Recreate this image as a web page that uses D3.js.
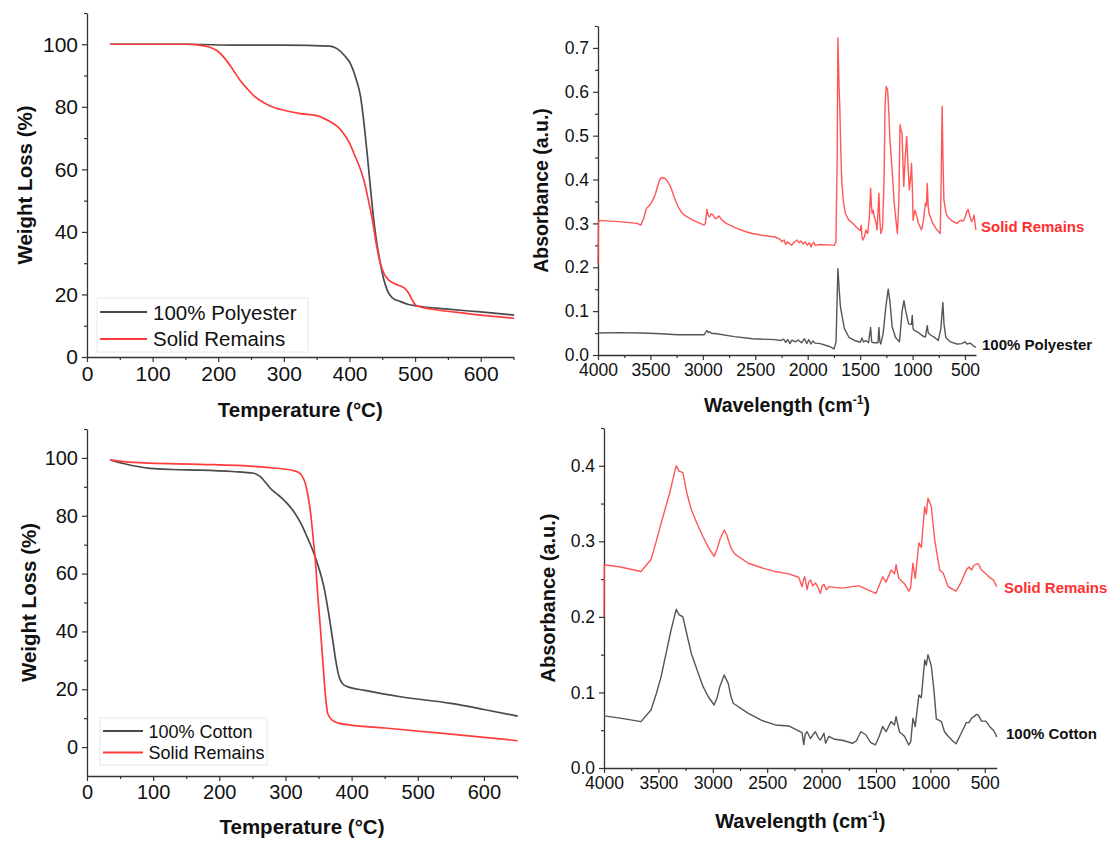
<!DOCTYPE html>
<html>
<head>
<meta charset="utf-8">
<script src="https://cdn.jsdelivr.net/npm/d3@7"></script>
<style>
  body { margin: 0; background: #fff; }
  text { font-family: "Liberation Sans", Arial, sans-serif; fill: #111; }
</style>
</head>
<body>
<svg id="fig" width="1111" height="841"></svg>
<script>
// ---- TGA curves: [temperature °C, weight %] ----
const tgaPolyester = [[35,100],[100,100],[150,100],[230,99.7],[300,99.7],[370,99.4],[381,98.6],[392,96.5],[401.5,93.8],[410,89],[417,83.2],[422,75],[427,65],[432,54],[437,43.8],[442,36],[447,30],[452,25],[457.5,21.4],[465,19],[478,17.7],[490,16.8],[503,16.3],[550,15.3],[600,14.4],[651,13.4]];
const tgaPolyRemains = [[35,100],[100,100],[150,100],[172,99.7],[185,99.2],[198,98],[210,95.5],[223,91.7],[235,88],[244,85.8],[254,83.6],[264,82],[280,80.2],[300,78.9],[325,77.8],[350,77.2],[371,75.2],[381,73.8],[391,71.5],[400,68.5],[407,65],[415,61],[422,56.5],[429,50],[435,43.8],[441,36],[447,30],[453,26.5],[460,24.6],[470,23.3],[480,22.5],[486,21.6],[490.5,20.3],[495,18.5],[501,16.6],[510,15.9],[529,15.2],[580,13.9],[651,12.4]];
const tgaCotton = [[35,99.3],[60,97.8],[95.5,96.4],[130,96],[171,95.8],[220,95.3],[252,94.7],[262,93.5],[270,91.5],[277,89.5],[290,87],[302.5,84.3],[313,81.3],[323,77.5],[333,72.5],[343,67],[351,61.5],[358,55.5],[364,48],[370.7,38.2],[376,30],[381,24.3],[386,22],[393.5,20.9],[420,19.6],[474,17.4],[550,15.1],[600,13],[651,10.7]];
const tgaCottonRemains = [[35,99.3],[60,98.6],[95,98.2],[171,97.8],[272,96.7],[312.6,95.6],[320,94.9],[325,93.8],[330,91.2],[334,87],[338,80.9],[342,72],[345.5,63.6],[349,52],[353,40.5],[357,28],[360.6,17.4],[364,11.5],[370.7,9.3],[380,8.3],[398.5,7.6],[450,6.6],[550,4.5],[651,2.2]];

// ---- FTIR spectra: [wavenumber cm-1, absorbance] ----
const ftirPolyRemains = [[4000,0.205],[3995,0.307],[3798,0.304],[3628,0.300],[3592,0.296],[3566,0.310],[3539,0.334],[3511,0.340],[3486,0.349],[3455,0.365],[3432,0.384],[3415,0.398],[3397,0.404],[3362,0.403],[3334,0.395],[3308,0.384],[3274,0.360],[3237,0.338],[3203,0.325],[3166,0.317],[3092,0.307],[3025,0.300],[2989,0.296],[2976,0.300],[2961,0.332],[2949,0.318],[2936,0.315],[2919,0.322],[2901,0.319],[2886,0.312],[2872,0.311],[2847,0.317],[2820,0.308],[2777,0.300],[2689,0.290],[2588,0.281],[2527,0.277],[2437,0.273],[2315,0.269],[2265,0.264],[2244,0.258],[2225,0.262],[2210,0.252],[2195,0.258],[2173,0.254],[2154,0.250],[2134,0.256],[2102,0.262],[2084,0.256],[2064,0.260],[2043,0.253],[2023,0.258],[2003,0.250],[1983,0.256],[1968,0.246],[1960,0.252],[1942,0.257],[1927,0.250],[1882,0.252],[1801,0.251],[1748,0.250],[1731,0.258],[1719,0.450],[1712,0.723],[1702,0.620],[1694,0.566],[1685,0.470],[1676,0.399],[1660,0.350],[1641,0.323],[1610,0.308],[1569,0.300],[1529,0.290],[1499,0.284],[1489,0.296],[1483,0.270],[1474,0.262],[1458,0.270],[1445,0.285],[1428,0.277],[1413,0.310],[1400,0.380],[1392,0.340],[1385,0.323],[1376,0.330],[1364,0.315],[1347,0.300],[1339,0.285],[1329,0.330],[1321,0.369],[1313,0.310],[1303,0.277],[1286,0.290],[1272,0.400],[1262,0.570],[1252,0.612],[1238,0.605],[1226,0.550],[1216,0.490],[1197,0.430],[1176,0.350],[1162,0.315],[1145,0.277],[1131,0.350],[1119,0.525],[1107,0.510],[1101,0.506],[1093,0.450],[1084,0.384],[1070,0.450],[1056,0.498],[1045,0.440],[1031,0.376],[1020,0.400],[1010,0.437],[1002,0.380],[995,0.307],[979,0.330],[967,0.323],[944,0.300],[914,0.285],[894,0.310],[878,0.346],[868,0.340],[860,0.391],[851,0.340],[843,0.323],[823,0.310],[807,0.300],[773,0.287],[736,0.277],[727,0.400],[718,0.567],[710,0.450],[701,0.353],[682,0.325],[666,0.315],[621,0.305],[577,0.300],[542,0.307],[520,0.305],[505,0.310],[485,0.325],[470,0.332],[452,0.315],[438,0.304],[424,0.310],[414,0.319],[404,0.300],[396,0.285]];
const ftirPolyester = [[4000,0.050],[3800,0.051],[3592,0.050],[3450,0.049],[3237,0.046],[3100,0.046],[2989,0.046],[2961,0.056],[2948,0.051],[2936,0.053],[2915,0.049],[2882,0.049],[2700,0.042],[2527,0.037],[2315,0.035],[2260,0.033],[2230,0.036],[2210,0.029],[2190,0.035],[2170,0.026],[2150,0.034],[2120,0.030],[2090,0.034],[2060,0.028],[2030,0.037],[2010,0.026],[1990,0.035],[1970,0.025],[1950,0.032],[1930,0.027],[1880,0.026],[1800,0.020],[1748,0.014],[1730,0.030],[1712,0.197],[1700,0.150],[1688,0.110],[1676,0.094],[1650,0.060],[1606,0.040],[1550,0.033],[1499,0.029],[1482,0.039],[1470,0.030],[1445,0.033],[1420,0.028],[1400,0.063],[1390,0.030],[1375,0.028],[1330,0.028],[1321,0.063],[1312,0.030],[1303,0.025],[1280,0.050],[1255,0.110],[1232,0.150],[1215,0.120],[1195,0.065],[1162,0.040],[1125,0.030],[1110,0.070],[1100,0.100],[1082,0.124],[1065,0.100],[1038,0.071],[1010,0.070],[1003,0.090],[995,0.060],[984,0.056],[949,0.052],[900,0.043],[878,0.041],[860,0.067],[850,0.050],[825,0.045],[790,0.040],[755,0.033],[730,0.060],[711,0.120],[700,0.070],[683,0.040],[640,0.030],[577,0.025],[530,0.026],[500,0.030],[480,0.025],[450,0.027],[420,0.021],[396,0.0175]];
const ftirCottonRemains = [[4000,0.200],[3997,0.269],[3850,0.266],[3660,0.260],[3568,0.276],[3520,0.300],[3475,0.324],[3398,0.363],[3345,0.395],[3336,0.400],[3310,0.393],[3275,0.391],[3240,0.365],[3198,0.342],[3140,0.322],[3090,0.306],[3040,0.292],[2988,0.280],[2960,0.290],[2935,0.302],[2895,0.315],[2870,0.308],[2858,0.302],[2830,0.290],[2796,0.283],[2673,0.271],[2550,0.265],[2426,0.260],[2302,0.257],[2210,0.2525],[2179,0.240],[2165,0.250],[2154,0.253],[2133,0.236],[2118,0.246],[2102,0.249],[2080,0.241],[2056,0.245],[2030,0.238],[2010,0.231],[1995,0.241],[1978,0.243],[1955,0.236],[1932,0.240],[1880,0.239],[1809,0.238],[1716,0.240],[1654,0.241],[1580,0.236],[1500,0.231],[1438,0.253],[1407,0.246],[1361,0.262],[1330,0.257],[1315,0.269],[1290,0.251],[1238,0.244],[1198,0.234],[1182,0.238],[1160,0.271],[1139,0.251],[1105,0.298],[1083,0.292],[1052,0.346],[1037,0.336],[1022,0.357],[991,0.346],[960,0.302],[914,0.262],[883,0.258],[836,0.240],[790,0.236],[764,0.234],[720,0.245],[696,0.253],[670,0.262],[645,0.266],[620,0.262],[600,0.268],[575,0.270],[558,0.270],[530,0.262],[490,0.257],[455,0.252],[421,0.249],[400,0.243],[390,0.240]];
const ftirCotton = [[4000,0.069],[3850,0.066],[3660,0.0614],[3568,0.0768],[3520,0.098],[3475,0.121],[3383,0.183],[3336,0.210],[3310,0.203],[3275,0.200],[3240,0.178],[3198,0.152],[3140,0.128],[3090,0.108],[3040,0.094],[2988,0.0834],[2960,0.093],[2935,0.108],[2895,0.123],[2875,0.117],[2858,0.112],[2835,0.096],[2812,0.0857],[2673,0.0724],[2550,0.063],[2426,0.057],[2302,0.0556],[2179,0.0468],[2164,0.031],[2150,0.045],[2133,0.048],[2102,0.039],[2080,0.044],[2056,0.048],[2030,0.040],[2010,0.037],[1978,0.046],[1963,0.033],[1932,0.042],[1880,0.038],[1809,0.0367],[1716,0.0327],[1680,0.036],[1639,0.048],[1593,0.044],[1550,0.034],[1506,0.0305],[1470,0.042],[1438,0.055],[1407,0.048],[1361,0.0614],[1330,0.057],[1315,0.068],[1284,0.048],[1238,0.042],[1198,0.0305],[1180,0.035],[1160,0.0658],[1139,0.055],[1105,0.0967],[1083,0.093],[1052,0.143],[1037,0.136],[1022,0.150],[991,0.135],[965,0.100],[945,0.065],[898,0.0614],[870,0.048],[836,0.042],[790,0.035],[764,0.032],[720,0.045],[696,0.052],[670,0.060],[645,0.060],[620,0.066],[600,0.068],[575,0.071],[558,0.070],[530,0.062],[490,0.062],[455,0.055],[421,0.050],[400,0.045],[390,0.041]];

// ---- ticks ----
const tempTicks = [0, 100, 200, 300, 400, 500, 600];
const tempMinor = [50, 150, 250, 350, 450, 550, 650];
const wtTicks = [0, 20, 40, 60, 80, 100];
const wtMinor = [10, 30, 50, 70, 90, 110];
const wnTicks = [4000, 3500, 3000, 2500, 2000, 1500, 1000, 500];
const wnMinor = [3750, 3250, 2750, 2250, 1750, 1250, 750];
const absTopTicks = [0, 0.1, 0.2, 0.3, 0.4, 0.5, 0.6, 0.7];
const absTopMinor = [0.05, 0.15, 0.25, 0.35, 0.45, 0.55, 0.65, 0.75];
const absBotTicks = [0, 0.1, 0.2, 0.3, 0.4];
const absBotMinor = [0.05, 0.15, 0.25, 0.35, 0.45];

const GRAY = "#4a4a4a", RED = "#ff3b3b";
const svg = d3.select("#fig");

function panel(p) {
  const x = d3.scaleLinear().domain(p.xDomain).range(p.xRange);
  const y = d3.scaleLinear().domain(p.yDomain).range(p.yRange);
  const g = svg.append("g");
  const yb = p.yRange[0], xl = p.xRange[0];

  const style = sel => {
    sel.selectAll(".tick line").attr("stroke", "#333").attr("stroke-width", 1.2);
    sel.selectAll(".domain").attr("stroke", "#333").attr("stroke-width", 1.3);
    sel.selectAll("text").attr("font-size", p.tickFont)
      .attr("font-family", '"Liberation Sans", Arial, sans-serif').attr("fill", "#111");
  };
  // minor ticks
  g.append("g").attr("transform", `translate(0,${yb})`)
    .call(d3.axisBottom(x).tickValues(p.xMinor).tickSize(3).tickFormat(""))
    .call(style).call(a => a.select(".domain").remove());
  g.append("g").attr("transform", `translate(${xl},0)`)
    .call(d3.axisLeft(y).tickValues(p.yMinor).tickSize(3).tickFormat(""))
    .call(style).call(a => a.select(".domain").remove());
  // major ticks
  g.append("g").attr("transform", `translate(0,${yb})`)
    .call(d3.axisBottom(x).tickValues(p.xTicks).tickSize(5).tickSizeOuter(0).tickPadding(4).tickFormat(d3.format("d")))
    .call(style);
  g.append("g").attr("transform", `translate(${xl},0)`)
    .call(d3.axisLeft(y).tickValues(p.yTicks).tickSize(5).tickSizeOuter(0).tickPadding(4).tickFormat(p.yFormat))
    .call(style);

  // curves
  p.series.forEach(s => {
    g.append("path").datum(s.data)
      .attr("fill", "none").attr("stroke", s.color).attr("stroke-width", p.lineWidth)
      .attr("stroke-opacity", s.opacity || 1).attr("stroke-linejoin", "round")
      .attr("d", d3.line().x(d => x(d[0])).y(d => y(d[1])).curve(p.curve));
  });

  // axis titles
  const xt = g.append("text").attr("x", (p.xRange[0] + p.xRange[1]) / 2).attr("y", p.xTitleY)
    .attr("text-anchor", "middle").attr("font-weight", "bold").attr("font-size", p.titleFont);
  xt.text(p.xTitle);
  if (p.xSup) {
    xt.append("tspan").attr("font-size", p.titleFont * 0.62).attr("dy", -8).text(p.xSup);
    xt.append("tspan").attr("dy", 8).text(")");
  }
  g.append("text")
    .attr("transform", `translate(${p.yTitleX},${(p.yRange[0] + p.yRange[1]) / 2}) rotate(-90)`)
    .attr("dy", "0.35em").attr("text-anchor", "middle").attr("font-weight", "bold")
    .attr("font-size", p.titleFont).text(p.yTitle);

  // legend box
  if (p.legend) {
    const L = p.legend;
    g.append("rect").attr("x", L.x).attr("y", L.y).attr("width", L.w).attr("height", L.h)
      .attr("fill", "#fff").attr("stroke", "#e8e8e8");
    L.items.forEach((it, i) => {
      g.append("line").attr("x1", L.lx0).attr("x2", L.lx1).attr("y1", L.lineY[i]).attr("y2", L.lineY[i])
        .attr("stroke", it.color).attr("stroke-width", 2);
      g.append("text").attr("x", L.tx).attr("y", L.textY[i]).attr("font-size", L.font).text(it.label);
    });
  }
  // inline curve labels
  (p.labels || []).forEach(l => {
    g.append("text").attr("x", l.x).attr("y", l.y).attr("font-size", 15).attr("font-weight", "bold")
      .style("fill", l.color).text(l.text);
  });
}

// top-left: TGA polyester
panel({
  xDomain: [0, 650], xRange: [87, 513.5], yDomain: [0, 110], yRange: [357, 13],
  xTicks: tempTicks, xMinor: tempMinor, yTicks: wtTicks, yMinor: wtMinor, yFormat: d3.format("d"),
  tickFont: 21, titleFont: 20.5, lineWidth: 1.7, curve: d3.curveMonotoneX,
  xTitle: "Temperature (°C)", xTitleY: 417, yTitle: "Weight Loss (%)", yTitleX: 25,
  series: [{ data: tgaPolyester, color: GRAY }, { data: tgaPolyRemains, color: RED }],
  legend: { x: 97, y: 298, w: 211, h: 54, lx0: 100, lx1: 147, tx: 153, font: 20.5,
    lineY: [312, 339], textY: [319.5, 345.5],
    items: [{ label: "100% Polyester", color: GRAY }, { label: "Solid Remains", color: RED }] }
});

// top-right: FTIR polyester
panel({
  xDomain: [4000, 395], xRange: [598, 976], yDomain: [0, 0.75], yRange: [355, 26],
  xTicks: wnTicks, xMinor: wnMinor, yTicks: absTopTicks, yMinor: absTopMinor, yFormat: d3.format(".1f"),
  tickFont: 17.5, titleFont: 19.5, lineWidth: 1.4, curve: d3.curveLinear,
  xTitle: "Wavelength (cm", xSup: "-1", xTitleY: 412, yTitle: "Absorbance (a.u.)", yTitleX: 541,
  series: [{ data: ftirPolyester, color: "#555" }, { data: ftirPolyRemains, color: "#ff4545", opacity: 0.9 }],
  labels: [{ text: "Solid Remains", x: 981, y: 232, color: "#ff2f2f" },
           { text: "100% Polyester", x: 982, y: 349.5, color: "#111" }]
});

// bottom-left: TGA cotton
panel({
  xDomain: [0, 650], xRange: [87, 517], yDomain: [-10, 110], yRange: [776, 429],
  xTicks: tempTicks, xMinor: tempMinor, yTicks: wtTicks, yMinor: wtMinor, yFormat: d3.format("d"),
  tickFont: 20, titleFont: 20.5, lineWidth: 1.7, curve: d3.curveMonotoneX,
  xTitle: "Temperature (°C)", xTitleY: 834, yTitle: "Weight Loss (%)", yTitleX: 29,
  series: [{ data: tgaCotton, color: GRAY }, { data: tgaCottonRemains, color: RED }],
  legend: { x: 100, y: 718, w: 167, h: 47, lx0: 103, lx1: 143, tx: 148.5, font: 18,
    lineY: [731, 752.5], textY: [737.5, 758.5],
    items: [{ label: "100% Cotton", color: GRAY }, { label: "Solid Remains", color: RED }] }
});

// bottom-right: FTIR cotton
panel({
  xDomain: [4000, 390], xRange: [604, 996.7], yDomain: [0, 0.45], yRange: [768, 428],
  xTicks: wnTicks, xMinor: wnMinor, yTicks: absBotTicks, yMinor: absBotMinor, yFormat: d3.format(".1f"),
  tickFont: 17.5, titleFont: 20, lineWidth: 1.4, curve: d3.curveLinear,
  xTitle: "Wavelength (cm", xSup: "-1", xTitleY: 828, yTitle: "Absorbance (a.u.)", yTitleX: 548,
  series: [{ data: ftirCotton, color: "#555" }, { data: ftirCottonRemains, color: "#ff4545", opacity: 0.9 }],
  labels: [{ text: "Solid Remains", x: 1004, y: 593, color: "#ff2f2f" },
           { text: "100% Cotton", x: 1006, y: 739, color: "#111" }]
});
</script>
</body>
</html>
